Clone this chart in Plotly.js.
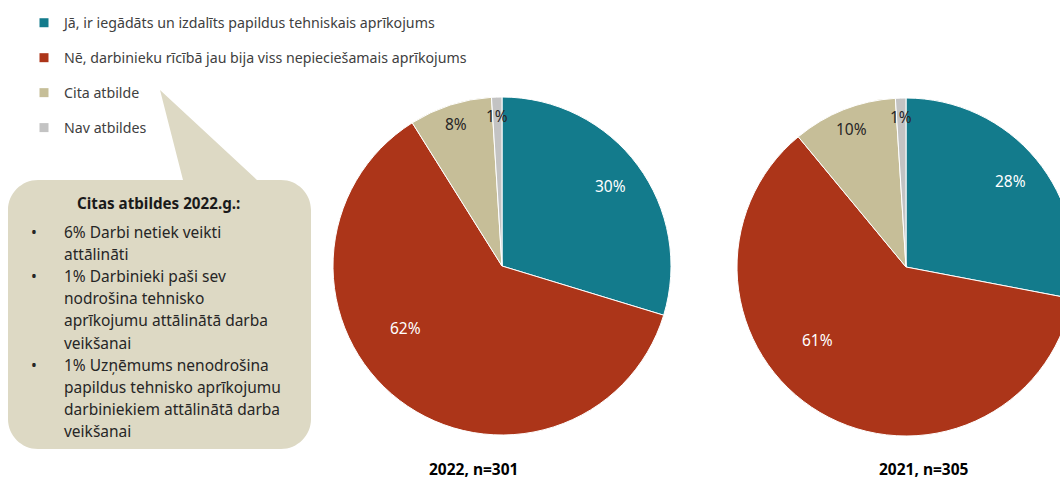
<!DOCTYPE html>
<html>
<head>
<meta charset="utf-8">
<script src="https://cdn.plot.ly/plotly-3.0.1.min.js"></script>
<style>
html,body{margin:0;padding:0;overflow:hidden;background:#fff;}
#chart{width:1100px;height:481px;}
</style>
</head>
<body>
<div id="chart"></div>
<script>
// ---- data ----
const categories = [
  'Jā, ir iegādāts un izdalīts papildus tehniskais aprīkojums',
  'Nē, darbinieku rīcībā jau bija viss nepieciešamais aprīkojums',
  'Cita atbilde',
  'Nav atbildes'
];
const values2022 = [30, 62, 8, 1];
const values2021 = [28, 61, 10, 1];
const pieTitles = ['2022, n=301', '2021, n=305'];
const calloutTitle = 'Citas atbildes 2022.g.:';
const calloutItems = [
  ['6% Darbi netiek veikti', 'attālināti'],
  ['1% Darbinieki paši sev', 'nodrošina tehnisko', 'aprīkojumu attālinātā darba', 'veikšanai'],
  ['1% Uzņēmums nenodrošina', 'papildus tehnisko aprīkojumu', 'darbiniekiem attālinātā darba', 'veikšanai']
];

// ---- styles / layout ----
const W = 1100, H = 481;
const FONT = '"Noto Sans", "Open Sans", sans-serif';
const colors = ['#137B8C', '#AC3519', '#C6BE98', '#C3C3C3'];
const labelColors = ['#ffffff', '#ffffff', '#262626', '#262626'];
const labelRadius = [0.80, 0.68, 0.88, 0.89];
const labelNudgeDeg = [0, 20, 0, 0];
const pieGeom = [{cx: 502, cy: 266, r: 169}, {cx: 906, cy: 267, r: 169}];
const pieTitlePos = [{x: 473, y: 469}, {x: 924, y: 469}];
const pieData = [values2022, values2021];

const traces = [];
const annotations = [];

pieData.forEach((vals, p) => {
  const g = pieGeom[p];
  traces.push({
    type: 'pie',
    values: vals,
    labels: categories,
    sort: false,
    direction: 'clockwise',
    rotation: 0,
    textinfo: 'none',
    hoverinfo: 'label+value',
    showlegend: false,
    marker: {colors: colors, line: {color: '#ffffff', width: 1}},
    domain: {
      x: [(g.cx - g.r) / W, (g.cx + g.r) / W],
      y: [1 - (g.cy + g.r) / H, 1 - (g.cy - g.r) / H]
    }
  });
  // slice labels computed from values
  const total = vals.reduce((a, b) => a + b, 0);
  let cum = 0;
  vals.forEach((v, i) => {
    const mid = (cum + v / 2) / total * 360 + labelNudgeDeg[i];
    cum += v;
    const rad = mid * Math.PI / 180;
    const rr = g.r * labelRadius[i];
    annotations.push({
      xref: 'x', yref: 'y',
      x: g.cx + rr * Math.sin(rad),
      y: g.cy - rr * Math.cos(rad),
      text: v + '%',
      showarrow: false,
      xanchor: 'center', yanchor: 'middle',
      font: {family: FONT, size: 15.5, color: labelColors[i]}
    });
  });
  annotations.push({
    xref: 'x', yref: 'y',
    x: pieTitlePos[p].x, y: pieTitlePos[p].y,
    text: '<b>' + pieTitles[p] + '</b>',
    showarrow: false, xanchor: 'center', yanchor: 'middle',
    font: {family: FONT, size: 15.5, color: '#000000'}
  });
});

// legend entries (one per category)
categories.forEach((c, i) => {
  traces.push({
    type: 'scatter', mode: 'markers',
    x: [null], y: [null],
    name: c,
    legendgroup: 'g' + i,
    showlegend: true,
    hoverinfo: 'skip',
    marker: {symbol: 'square', size: 9, color: colors[i]}
  });
});

// callout text
annotations.push({
  xref: 'x', yref: 'y', x: 158, y: 203,
  text: '<b>' + calloutTitle + '</b>', showarrow: false,
  xanchor: 'center', yanchor: 'middle',
  font: {family: FONT, size: 15.2, color: '#1a1a1a'}
});
let line = 0;
const lineY0 = 232, lineStep = 22.1;
calloutItems.forEach(item => {
  annotations.push({
    xref: 'x', yref: 'y', x: 34, y: lineY0 + line * lineStep,
    text: '•', showarrow: false, xanchor: 'center', yanchor: 'middle',
    font: {family: FONT, size: 15.5, color: '#262626'}
  });
  item.forEach(t => {
    annotations.push({
      xref: 'x', yref: 'y', x: 62, y: lineY0 + line * lineStep,
      text: t, showarrow: false, xanchor: 'left', yanchor: 'middle',
      font: {family: FONT, size: 15.5, color: '#262626'}
    });
    line++;
  });
});

// callout bubble shape
const bx0 = 8, by0 = 180, bx1 = 311, by1 = 449, br = 30, k = br * 0.552;
const path = [
  'M', bx0 + br, by0,
  'L', 183, by0, 'L', 160, 90, 'L', 257, by0,
  'L', bx1 - br, by0,
  'C', bx1 - br + k, by0, bx1, by0 + br - k, bx1, by0 + br,
  'L', bx1, by1 - br,
  'C', bx1, by1 - br + k, bx1 - br + k, by1, bx1 - br, by1,
  'L', bx0 + br, by1,
  'C', bx0 + br - k, by1, bx0, by1 - br + k, bx0, by1 - br,
  'L', bx0, by0 + br,
  'C', bx0, by0 + br - k, bx0 + br - k, by0, bx0 + br, by0,
  'Z'
].join(' ');

const layout = {
  width: W, height: H,
  margin: {l: 0, r: 0, t: 0, b: 0, pad: 0},
  paper_bgcolor: '#ffffff', plot_bgcolor: 'rgba(0,0,0,0)',
  xaxis: {range: [0, W], visible: false, fixedrange: true},
  yaxis: {range: [H, 0], visible: false, fixedrange: true},
  showlegend: true,
  legend: {
    x: 24 / W, y: 1 - 7 / H, xanchor: 'left', yanchor: 'top',
    bgcolor: 'rgba(0,0,0,0)', borderwidth: 0,
    traceorder: 'grouped', tracegroupgap: 13.5,
    font: {family: FONT, size: 14.2, color: '#404040'}
  },
  shapes: [{
    type: 'path', xref: 'x', yref: 'y', path: path,
    fillcolor: '#DDD9C4', line: {width: 0}, layer: 'below'
  }],
  annotations: annotations
};

Plotly.newPlot('chart', traces, layout, {displayModeBar: false});
</script>
</body>
</html>
